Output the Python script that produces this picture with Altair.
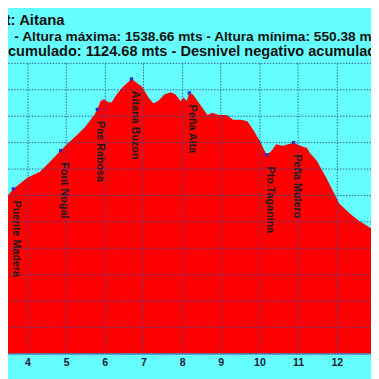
import altair as alt
import pandas as pd

# Elevation profile (km along track, altitude in m)
km = [3.497, 3.638, 3.993, 4.322, 4.570, 4.860, 5.026, 5.273, 5.479, 5.727,
      5.808, 5.893, 5.974, 6.098, 6.180, 6.304, 6.470, 6.693, 6.965, 7.131,
      7.255, 7.379, 7.542, 7.708, 7.832, 7.956, 8.038, 8.122, 8.186, 8.285,
      8.451, 8.657, 8.781, 8.947, 9.152, 9.318, 9.524, 9.690, 9.856, 10.019,
      10.185, 10.309, 10.433, 10.599, 10.886, 11.094, 11.233, 11.300, 11.481,
      11.729, 11.895, 12.061, 12.308, 12.556, 12.886]
altitude = [1099, 1123, 1165, 1188, 1224, 1268, 1293, 1326, 1355, 1403,
            1424, 1456, 1462, 1451, 1451, 1480, 1510, 1538.66, 1510, 1469,
            1447, 1456, 1480, 1489, 1480, 1456, 1469, 1456, 1486, 1480,
            1445, 1403, 1411, 1403, 1403, 1385, 1385, 1379, 1343, 1302,
            1252, 1266, 1292, 1286, 1298, 1284, 1278, 1260, 1230,
            1165, 1117, 1069, 1034, 1004, 974]

# Waypoints
wp_names = ["Puente Madera", "Font Nogal", "Pas Rabosa", "Aitana Buzon",
            "Peña Alta", "Pto.Taganina", "Peña Mulero"]
wp_km = [3.638, 4.860, 5.808, 6.693, 8.186, 10.185, 10.886]
wp_alt = [1123, 1268, 1424, 1538.66, 1486, 1252, 1298]

title_lines = [
    "t: Aitana",
    "- Altura máxima: 1538.66 mts - Altura mínima: 550.38 mts",
    "cumulado: 1124.68 mts - Desnivel negativo acumulado",
]
x_ticks = [4, 5, 6, 7, 8, 9, 10, 11, 12]
y_ticks = [500, 600, 700, 800, 900, 1000, 1100, 1200, 1300, 1400, 1500, 1600]

prof = pd.DataFrame({"km": km, "alt": altitude})
wp = pd.DataFrame({"name": wp_names, "km": wp_km, "alt": wp_alt})

FONT = "Liberation Sans"
GRID = "#2b4f9a"

xs = alt.Scale(domain=[3.497, 12.886], nice=False, zero=False)
ys = alt.Scale(domain=[500, 1600], nice=False, zero=False)

area = alt.Chart(prof).mark_area(color="#ff0000", clip=True, interpolate="linear").encode(
    x=alt.X("km:Q", scale=xs, axis=alt.Axis(
        values=x_ticks, tickCount=len(x_ticks) + 2,
        grid=True, gridColor=GRID, gridDash=[1.5, 1.5], gridOpacity=0.9,
        gridWidth=1, ticks=False, labelPadding=3, labelFont=FONT, labelFontWeight="bold",
        labelFontSize=10.8, labelColor="#1a1a3a", domainColor="#5060a8",
        title=None, zindex=1)),
    y=alt.Y("alt:Q", scale=ys, axis=alt.Axis(
        values=y_ticks, tickCount=len(y_ticks) + 2,
        grid=True, gridColor=GRID, gridDash=[1.5, 1.5], gridOpacity=0.9,
        gridWidth=1, labels=False, ticks=False, domain=False, title=None, zindex=1)),
)

markers = alt.Chart(wp).mark_square(size=12, color="#2f2fc8", opacity=1).encode(
    x=alt.X("km:Q", scale=xs),
    y=alt.Y("alt:Q", scale=ys),
)

labels = alt.Chart(wp).mark_text(
    angle=90, align="left", baseline="middle", dx=12, dy=-3,
    font=FONT, fontWeight="bold", fontSize=11, color="#1a1a1a",
).encode(
    x=alt.X("km:Q", scale=xs),
    y=alt.Y("alt:Q", scale=ys),
    text="name:N",
)

dummy = alt.Data(values=[{}])
t1 = alt.Chart(dummy).mark_text(
    text=title_lines[0], align="right", baseline="alphabetic",
    font=FONT, fontWeight="bold", fontSize=15.2, color="#111111",
).encode(x=alt.value(57.8), y=alt.value(-38.3))
t2 = alt.Chart(dummy).mark_text(
    text=title_lines[1], align="left", baseline="alphabetic",
    font=FONT, fontWeight="bold", fontSize=14.0, color="#111111",
).encode(x=alt.value(6.5), y=alt.value(-22.6))
t3 = alt.Chart(dummy).mark_text(
    text=title_lines[2], align="left", baseline="alphabetic",
    font=FONT, fontWeight="bold", fontSize=14.9, color="#111111",
).encode(x=alt.value(0), y=alt.value(-7.5))

chart = alt.layer(area, markers, labels, t1, t2, t3).properties(
    width=371,
    height=297,
    autosize=alt.AutoSizeParams(type="none"),
    padding={"left": 0, "right": 0, "top": 52, "bottom": 22},
    background="#66ffff",
).configure_view(strokeWidth=0)

chart.save("out.html", embed_options={"renderer": "svg", "actions": False})
